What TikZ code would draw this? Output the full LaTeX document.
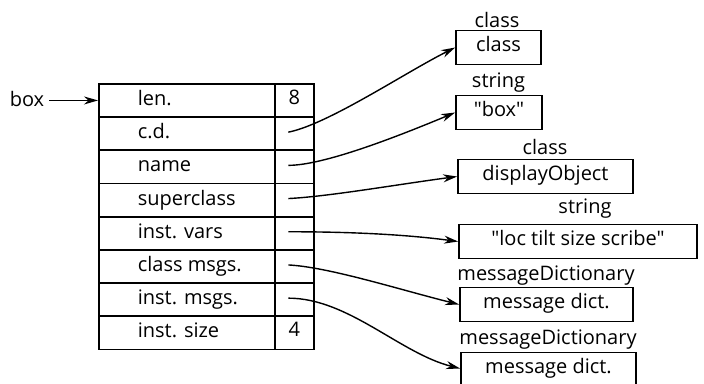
\documentclass[tikz,border=0pt]{standalone}
\usepackage{fontspec}
\setmainfont{Open Sans}[Ligatures=TeXOff]
\usetikzlibrary{arrows.meta}

\begin{document}
\begin{tikzpicture}[x=1bp,y=-1bp,
  line width=1.7bp,
  every node/.style={font=\fontsize{20bp}{24bp}\selectfont, inner sep=0pt},
  namecell/.style={draw, minimum width=176bp, minimum height=33.2bp, anchor=north west},
  valcell/.style={draw, minimum width=39bp, minimum height=33.2bp, anchor=north west,
    text height=0.85em, text depth=0.1em},
  fieldtext/.style={anchor=base west},
  objbox/.style={draw, minimum height=34bp, text height=0.85em, text depth=0.1em},
  typelabel/.style={anchor=base},
  ptr/.style={-{Stealth[length=14bp,width=8bp,inset=4.5bp]}, line width=1.4bp}
]
\useasboundingbox (0,0) rectangle (704,383);

% the class record: eight rows of name and value cells
\foreach \i/\lbl/\val in {0/len./8, 1/c.d./, 2/name/, 3/superclass/,
    4/inst. vars/, 5/class msgs./, 6/inst. msgs./, 7/inst. size/4} {
  \node[namecell] (n\i) at (98, 83+\i*33.2) {};
  \node[valcell] (v\i) at (274, 83+\i*33.2) {\val};
  \node[fieldtext] (t\i) at (137, 83+\i*33.2+22.5) {\lbl};
}

% the variable pointing at the record
\node[anchor=base] (box) at (27,106) {box};
\draw[ptr] (box.east |- n0.west) ++(4,0) coordinate (boxtail) -- (n0.west);

% pointer origins inside the value cells
\foreach \i in {1,...,6} {
  \coordinate (p\i) at ([xshift=-6bp,yshift=1.5bp]v\i.center);
}

% target objects with their types
\node[objbox, minimum width=85bp] (o1) at (498.5,47.5) {class};
\node[typelabel] (l1) at (497,27) {class};
\node[objbox, minimum width=86bp] (o2) at (499,112.5) {"box"};
\node[typelabel] (l2) at (498.5,87) {string};
\node[objbox, minimum width=175bp] (o3) at (545.5,176.5) {displayObject};
\node[typelabel] (l3) at (545,154) {class};
\node[objbox, minimum width=238bp] (o4) at (578,241.5) {"loc tilt size scribe"};
\node[typelabel] (l4) at (585,213) {string};
\node[objbox, minimum width=173bp] (o5) at (546.5,304.5) {message dict.};
\node[typelabel] (l5) at (546,280) {messageDictionary};
\node[objbox, minimum width=175bp] (o6) at (548.5,369.5) {message dict.};
\node[typelabel] (l6) at (548,344) {messageDictionary};

% pointers from the record fields to the objects
\draw[ptr] (p1) .. controls +(40,-8) and +(-50,25) .. (o1.west);
\draw[ptr] (p2) .. controls +(35,0) and +(-60,25) .. (o2.west);
\draw[ptr] (p3) .. controls +(40,-2) and +(-60,8) .. (o3.west);
\draw[ptr] (p4) .. controls +(50,0) and +(-60,-8) .. (o4.west);
\draw[ptr] (p5) .. controls +(40,2) and +(-60,-15) .. (o5.west);
\draw[ptr] (p6) .. controls +(60,0) and +(-60,-15) .. ([yshift=1bp]o6.west);
\end{tikzpicture}
\end{document}
